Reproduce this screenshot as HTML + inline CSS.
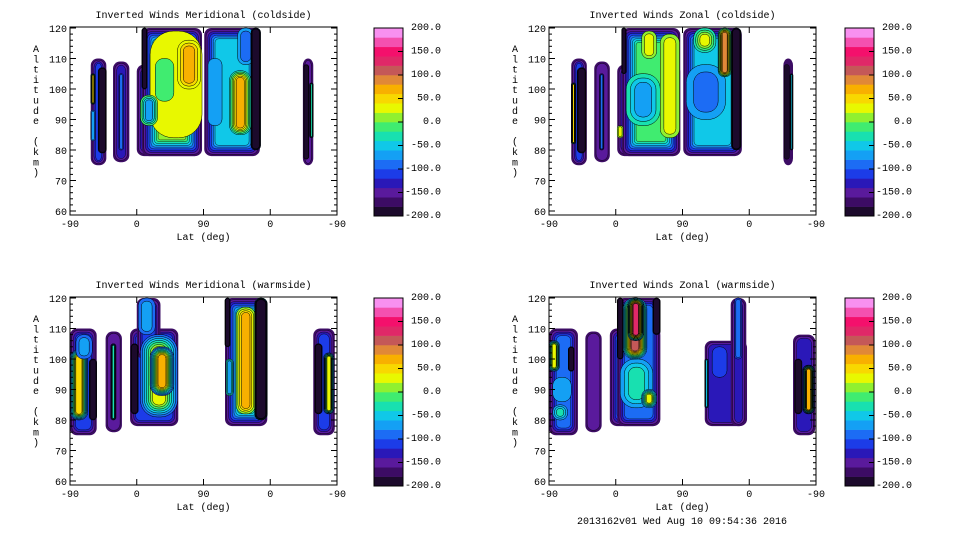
<!DOCTYPE html>
<html><head><meta charset="utf-8">
<style>
html,body{margin:0;padding:0;background:#fff;}
svg{display:block;}
text{font-family:"Liberation Mono",monospace;font-size:10px;fill:#000;}
</style></head>
<body>
<svg id="fig" width="960" height="540" viewBox="0 0 960 540"></svg>
<script>
// Colour levels (20 bands, -200..200)
const levelColors=["#1c0a2c","#3c0c64","#5a1a9c","#2a18b8","#1c3ce8","#1c6cf4","#14a0f4","#10c8e8","#18e0b0","#40ec70","#90f030","#e8f800","#f8d800","#f8b000","#e08838","#c45858","#e02868","#f4106c","#f450b0","#f890f0"];
const cbarLabels=[200,150,100,50,0,-50,-100,-150,-200];
const latTicks=["-90","0","90","0","-90"];
const altTicks=[120,110,100,90,80,70,60];
// blobs: [lat0, lat1, alt0, alt1, base value]; lat index 0..360 along axis
const p1Blobs=[[28,49,75,110,-120],[58,80,76,109,-140],[90,178,78,108,-20],[97,178,78,120,0],[181,256,78,120,-60],[314,328,75,110,-160]];
// patches: [lat0, lat1, alt0, alt1, value]
const p1Patches=[[28,34,95,105,40],[28,34,83,93,-80],[38,49,79,107,-200],[66,72,80,105,-100],[97,104,100,120,-200],[108,178,84,119,30],[145,176,100,116,60],[95,118,88,98,-70],[115,140,96,110,-20],[215,244,85,106,60],[226,248,108,120,-100],[186,205,88,110,-80],[244,257,80,120,-200],[315,322,77,108,-200],[323,328,84,102,-40]];
const p2Blobs=[[30,51,75,110,-120],[61,82,76,109,-160],[92,177,78,108,-20],[98,177,78,120,-20],[181,260,78,120,-60],[316,329,75,110,-180]];
const p2Patches=[[30,36,82,102,40],[38,50,79,107,-200],[68,74,80,105,-100],[98,104,105,120,-200],[104,150,88,105,-80],[150,176,84,118,30],[125,145,110,119,20],[92,100,84,88,30],[185,238,90,108,-100],[228,246,104,120,80],[246,259,80,120,-200],[195,225,112,120,20],[317,324,77,108,-200],[325,329,80,105,-60]];
const p3Blobs=[[0,36,75,110,-120],[48,70,76,109,-160],[81,146,78,110,-120],[90,122,100,120,-120],[209,266,78,120,-20],[328,357,75,110,-120]];
const p3Patches=[[0,24,80,103,50],[26,36,80,100,-200],[8,30,100,108,-80],[55,62,80,105,-40],[95,145,81,108,30],[108,140,88,104,60],[82,92,82,105,-200],[92,115,108,120,-80],[224,250,82,117,70],[249,266,80,120,-200],[209,216,104,120,-200],[210,220,88,100,-80],[330,340,82,105,-200],[342,356,82,102,30]];
const p4Blobs=[[0,39,75,110,-100],[49,71,76,109,-160],[82,150,78,110,-100],[92,150,78,120,-100],[210,267,78,106,-140],[245,266,78,120,-140],[329,359,75,108,-140]];
const p4Patches=[[0,14,96,106,30],[26,34,96,104,-200],[5,30,86,94,-80],[5,25,80,85,-40],[96,140,84,100,-40],[100,132,100,120,100],[106,128,106,120,130],[92,100,100,120,-200],[140,150,108,120,-200],[125,145,84,90,30],[210,215,84,100,-60],[220,240,94,104,-120],[250,260,100,120,-100],[331,341,82,100,-200],[342,358,82,98,60]];

const panels=[
 {x0:70,y0:28,title:"Inverted Winds Meridional (coldside)",blobs:p1Blobs,patches:p1Patches,cb:374,name:"meridional-coldside"},
 {x0:549,y0:28,title:"Inverted Winds Zonal (coldside)",blobs:p2Blobs,patches:p2Patches,cb:845,name:"zonal-coldside"},
 {x0:70,y0:298,title:"Inverted Winds Meridional (warmside)",blobs:p3Blobs,patches:p3Patches,cb:374,name:"meridional-warmside"},
 {x0:549,y0:298,title:"Inverted Winds Zonal (warmside)",blobs:p4Blobs,patches:p4Patches,cb:845,name:"zonal-warmside"}
];
const NS="http://www.w3.org/2000/svg";
const fig=document.getElementById('fig');
function mk(tag,attrs,parent){const e=document.createElementNS(NS,tag);for(const k in attrs)e.setAttribute(k,attrs[k]);(parent||fig).appendChild(e);return e;}
function bandIdx(v){return Math.max(0,Math.min(19,Math.floor((v+200)/20)));}
const W=267,PXKM=3.05;
panels.forEach((p,pi)=>{
  const xs=l=>p.x0+l*W/360;
  const ys=a=>p.y0+(120-a)*PXKM;
  const g=mk('g',{});
  
  
  const cid='clip'+pi;
  const cp=mk('clipPath',{id:cid},g);
  mk('rect',{x:p.x0,y:p.y0-1,width:W,height:188},cp);
  const field=mk('g',{'clip-path':'url(#'+cid+')'},g);
  
  
  p.blobs.forEach(b=>{
    const x0=xs(b[0]),x1=xs(b[1]),y0=ys(b[3]),y1=ys(b[2]);
    const n=Math.max(1,bandIdx(b[4]));
    const half=Math.min(x1-x0,y1-y0)/2;
    const step=Math.min(1.8,half*0.8/n);
    for(let k=1;k<=n;k++){
      const ins=(k-1)*step;
      const r=mk('rect',{x:x0+ins,y:y0+ins,width:Math.max(0,x1-x0-2*ins),height:Math.max(0,y1-y0-2*ins),rx:Math.max(2,7-ins*0.3),fill:levelColors[k],stroke:k>1?'#000':'none','stroke-width':0.4},field);
      
      
    }
  });
  p.patches.forEach(q=>{
    const x0=xs(q[0]),x1=xs(q[1]),y0=ys(q[3]),y1=ys(q[2]);
    let base=-100;
    p.blobs.forEach(b=>{if(q[0]>=b[0]-2&&q[1]<=b[1]+2)base=b[4];});
    const t=bandIdx(q[4]),s=bandIdx(base);
    const dir=t>=s?1:-1;
    const n=Math.abs(t-s);
    if(n===0)return;
    const half=Math.min(x1-x0,y1-y0)/2;
    const step=q[4]<=-200?Math.min(0.8,half*0.3/n):half*0.75/n;
    for(let k=1;k<=n;k++){
      const ins=(k-1)*step;
      const w=x1-x0-2*ins,h=y1-y0-2*ins;
      if(w<=0||h<=0)break;
      const r=mk('rect',{x:x0+ins,y:y0+ins,width:w,height:h,rx:Math.min(w,h)*0.45,fill:levelColors[s+dir*k],stroke:'#000','stroke-width':0.5},field);
      
      
    }
  });
  const box=mk('rect',{x:p.x0,y:p.y0-1,width:W,height:188,fill:'none',stroke:'#000','stroke-width':1},g);
  
  
  for(let a=60;a<=120;a+=2){
    const y=ys(a),len=(a%10===0)?6:3;
    mk('line',{x1:p.x0,y1:y,x2:p.x0+len,y2:y,stroke:'#000','stroke-width':1},g);
    mk('line',{x1:p.x0+W,y1:y,x2:p.x0+W-len,y2:y,stroke:'#000','stroke-width':1},g);
  }
  altTicks.forEach(a=>{
    const t=mk('text',{x:p.x0-3,y:ys(a)+4,'text-anchor':'end'},g);
    t.textContent=a;
    
    
  });
  latTicks.forEach((lbl,i)=>{
    const x=p.x0+i*W/4;
    mk('line',{x1:x,y1:p.y0+187,x2:x,y2:p.y0+181,stroke:'#000'},g);
    mk('line',{x1:x,y1:p.y0-1,x2:x,y2:p.y0+5,stroke:'#000'},g);
    const t=mk('text',{x:x,y:p.y0+199,'text-anchor':'middle'},g);
    t.textContent=lbl;
    
    
  });
  const tt=mk('text',{x:p.x0+W/2,y:p.y0-10,'text-anchor':'middle'},g);
  tt.textContent=p.title;
  
  
  const xl=mk('text',{x:p.x0+W/2,y:p.y0+212,'text-anchor':'middle'},g);
  xl.textContent="Lat (deg)";
  
  
  const yl=mk('g',{},g);
  
  
  "Altitude (km)".split('').forEach((c,i)=>{
    const t=mk('text',{x:p.x0-34,y:p.y0+24+i*10.3,'text-anchor':'middle'},yl);
    t.textContent=c;
  });
  const cb=mk('g',{},g);
  
  
  const cbTop=p.y0,cbH=188,bh=cbH/20;
  levelColors.forEach((c,i)=>{
    mk('rect',{x:p.cb,y:cbTop+cbH-(i+1)*bh,width:29,height:bh+0.3,fill:c},cb);
  });
  mk('rect',{x:p.cb,y:cbTop,width:29,height:cbH,fill:'none',stroke:'#000'},cb);
  cbarLabels.forEach(v=>{
    const y=cbTop+cbH-(v+200)/400*cbH;
    mk('line',{x1:p.cb+29,y1:y,x2:p.cb+24,y2:y,stroke:'#000'},cb);
    const t=mk('text',{x:p.cb+67,y:y+2,'text-anchor':'end'},cb);
    t.textContent=v.toFixed(1);
    
    
  });
});
const ft=mk('text',{x:682,y:524,'text-anchor':'middle'});
ft.textContent="2013162v01 Wed Aug 10 09:54:36 2016";


</script>
</body></html>
